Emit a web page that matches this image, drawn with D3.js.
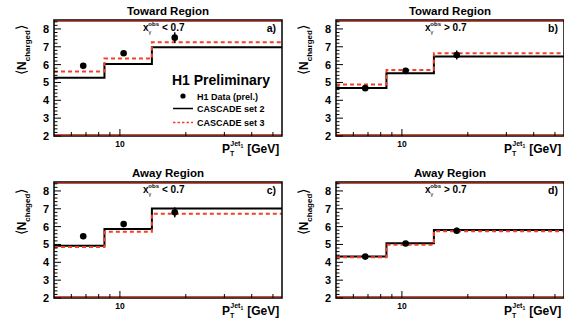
<!DOCTYPE html>
<html>
<head>
<meta charset="utf-8">
<script src="https://cdn.jsdelivr.net/npm/d3@7"></script>
<style>
  body { margin: 0; background: #fff; }
  svg { display: block; font-family: "Liberation Sans", Arial, sans-serif; font-weight: bold; }
</style>
</head>
<body>
<svg id="chart"></svg>
<script>
var width = 564,
    height = 321;

// bin edges and data point positions (GeV)
var binEdges = [5, 8.5, 14, 55],
    ptPoints = [6.8, 10.4, 17.8];

// panel a) toward, x < 0.7
var dataA = [5.93, 6.64, 7.51], errA = [0.08, 0.12, 0.3],
    set2A = [5.27, 6.04, 6.97], set3A = [5.61, 6.34, 7.25];
// panel b) toward, x > 0.7
var dataB = [4.68, 5.65, 6.54], errB = [0.07, 0.1, 0.25],
    set2B = [4.69, 5.52, 6.45], set3B = [4.88, 5.70, 6.64];
// panel c) away, x < 0.7
var dataC = [5.46, 6.14, 6.80], errC = [0.08, 0.12, 0.28],
    set2C = [4.93, 5.87, 7.02], set3C = [4.86, 5.71, 6.72];
// panel d) away, x > 0.7
var dataD = [4.32, 5.05, 5.77], errD = [0.06, 0.08, 0.17],
    set2D = [4.32, 5.07, 5.81], set3D = [4.29, 4.99, 5.74];

var titles = ["Toward Region", "Toward Region", "Away Region", "Away Region"],
    cuts = ["< 0.7", "> 0.7", "< 0.7", "> 0.7"],
    tags = ["a)", "b)", "c)", "d)"],
    yNames = ["charged", "charged", "chaged", "chaged"];

var yTicks = [2, 3, 4, 5, 6, 7, 8],
    xMinor = [6, 7, 8, 9, 20, 30, 40, 50];

var panels = [
    {ox: 0,   oy: 0,   data: dataA, err: errA, s2: set2A, s3: set3A},
    {ox: 282, oy: 0,   data: dataB, err: errB, s2: set2B, s3: set3B},
    {ox: 0,   oy: 162, data: dataC, err: errC, s2: set2C, s3: set3C},
    {ox: 282, oy: 162, data: dataD, err: errD, s2: set2D, s3: set3D}
];

var red = "#f2402a";

var svg = d3.select("#chart").attr("width", width).attr("height", height);

var x = d3.scaleLog().domain([5, 55]).range([54, 282]),
    y = d3.scaleLinear().domain([2, 8.5]).range([136, 20]);

var line = d3.line().x(d => x(d[0])).y(d => y(d[1]));

function steps(vals) {
    var pts = [];
    vals.forEach(function(v, i) {
        pts.push([binEdges[i], v]);
        pts.push([binEdges[i + 1], v]);
    });
    return pts;
}

panels.forEach(function(p, k) {
    var g = svg.append("g").attr("transform", "translate(" + p.ox + "," + p.oy + ")");

    // histograms
    g.append("path").attr("d", line(steps(p.s2)))
        .attr("fill", "none").attr("stroke", "#000").attr("stroke-width", 2);
    g.append("path").attr("d", line(steps(p.s3)))
        .attr("fill", "none").attr("stroke", red).attr("stroke-width", 2)
        .attr("stroke-dasharray", "4,3");

    // data
    p.data.forEach(function(v, i) {
        g.append("line")
            .attr("x1", x(ptPoints[i])).attr("x2", x(ptPoints[i]))
            .attr("y1", y(v - p.err[i])).attr("y2", y(v + p.err[i]))
            .attr("stroke", "#000").attr("stroke-width", 1.5);
        g.append("circle").attr("cx", x(ptPoints[i])).attr("cy", y(v))
            .attr("r", 3.3).attr("fill", "#000");
    });

    // frame
    g.append("line").attr("x1", 54).attr("x2", 282).attr("y1", 21.5).attr("y2", 21.5)
        .attr("stroke", red).attr("stroke-width", 1);
    g.append("line").attr("x1", 54).attr("x2", 282).attr("y1", 134.5).attr("y2", 134.5)
        .attr("stroke", red).attr("stroke-width", 1);
    g.append("rect").attr("x", 54).attr("y", 20).attr("width", 228).attr("height", 116)
        .attr("fill", "none").attr("stroke", "#000").attr("stroke-width", 1.5);

    // y ticks
    d3.range(2, 8.51, 0.2).forEach(function(t) {
        var major = Math.abs(t - Math.round(t)) < 1e-6;
        g.append("line").attr("x1", 54).attr("x2", 54 + (major ? 7 : 3.5))
            .attr("y1", y(t)).attr("y2", y(t)).attr("stroke", "#000").attr("stroke-width", 1);
    });
    g.selectAll(".ylab").data(yTicks).enter().append("text")
        .attr("x", 49).attr("y", d => y(d) + 4)
        .attr("text-anchor", "end").attr("font-size", 11).text(d => d);

    // x ticks
    xMinor.forEach(function(t) {
        g.append("line").attr("x1", x(t)).attr("x2", x(t)).attr("y1", 136).attr("y2", 132)
            .attr("stroke", "#000").attr("stroke-width", 1);
    });
    g.append("line").attr("x1", x(10)).attr("x2", x(10)).attr("y1", 136).attr("y2", 129)
        .attr("stroke", "#000").attr("stroke-width", 1);
    g.append("text").attr("x", x(10)).attr("y", 147).attr("text-anchor", "middle")
        .attr("font-size", 8.5).text("10");

    // x title
    var xt = g.append("text").attr("x", 222).attr("y", 153).attr("font-size", 12);
    xt.append("tspan").text("P");
    xt.append("tspan").attr("font-size", 7).attr("dy", 3).text("T");
    xt.append("tspan").attr("font-size", 7).attr("dx", -4).attr("dy", -10).text("Jet");
    xt.append("tspan").attr("font-size", 5).attr("dy", 2).text("1");
    xt.append("tspan").attr("dx", 4).attr("dy", 5).text("[GeV]");

    // y title
    var yt = g.append("text").attr("transform", "translate(26,50) rotate(-90)")
        .attr("text-anchor", "middle").attr("font-size", 12);
    yt.append("tspan").attr("font-weight", "normal").attr("font-size", 14).text("\u27E8");
    yt.append("tspan").text("N");
    yt.append("tspan").attr("font-size", 8).attr("dy", 4).text(yNames[k]);
    yt.append("tspan").attr("font-weight", "normal").attr("font-size", 14).attr("dy", -4).text("\u27E9");

    // titles
    g.append("text").attr("x", 168).attr("y", 15).attr("text-anchor", "middle")
        .attr("font-size", 11.5).text(titles[k]);

    var ct = g.append("text").attr("x", 143).attr("y", 31).attr("font-size", 10);
    ct.append("tspan").text("x");
    ct.append("tspan").attr("font-size", 5.5).attr("dy", 3).attr("font-weight", "normal").text("\u03B3");
    ct.append("tspan").attr("font-size", 6).attr("dx", -3).attr("dy", -8).text("obs");
    ct.append("tspan").attr("dx", 3).attr("dy", 5).text(cuts[k]);

    g.append("text").attr("x", 276).attr("y", 32).attr("text-anchor", "end")
        .attr("font-size", 10.5).text(tags[k]);
});

// legend in panel a
var lg = svg.append("g");
lg.append("text").attr("x", 172).attr("y", 85).attr("font-size", 14).text("H1 Preliminary");
lg.append("circle").attr("cx", 183).attr("cy", 96).attr("r", 2.6).attr("fill", "#000");
lg.append("text").attr("x", 197).attr("y", 100).attr("font-size", 9).text("H1 Data (prel.)");
lg.append("line").attr("x1", 173).attr("x2", 193).attr("y1", 108.5).attr("y2", 108.5)
    .attr("stroke", "#000").attr("stroke-width", 1.5);
lg.append("text").attr("x", 197).attr("y", 112).attr("font-size", 9).text("CASCADE set 2");
lg.append("line").attr("x1", 173).attr("x2", 193).attr("y1", 122.5).attr("y2", 122.5)
    .attr("stroke", red).attr("stroke-width", 1.5).attr("stroke-dasharray", "2.5,2");
lg.append("text").attr("x", 197).attr("y", 126).attr("font-size", 9).text("CASCADE set 3");
</script>
</body>
</html>
